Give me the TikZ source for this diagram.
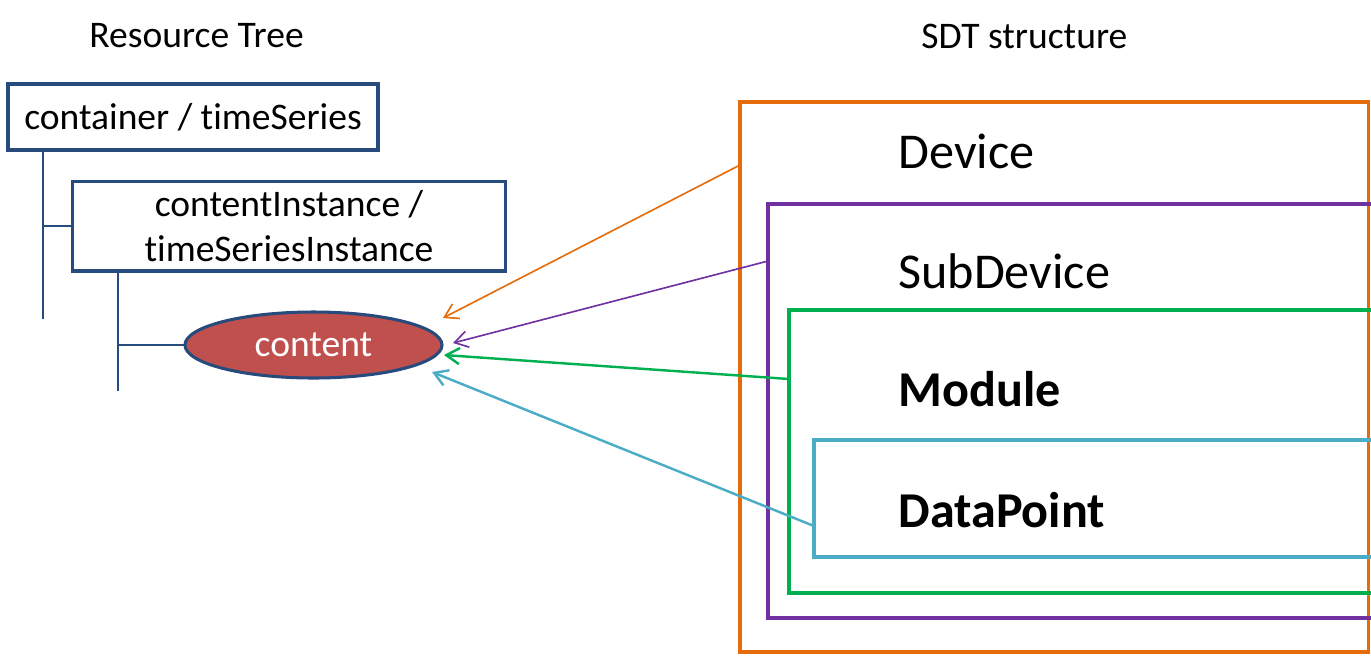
\documentclass[tikz,border=0pt]{standalone}
\usepackage{fontspec}
\setmainfont{Carlito}[Ligatures=NoCommon]
\usetikzlibrary{arrows.meta,shapes.geometric}
\definecolor{treeblue}{HTML}{264B7C}
\definecolor{devorange}{HTML}{E46C0A}
\definecolor{subpurple}{HTML}{7030A0}
\definecolor{modgreen}{HTML}{00B050}
\definecolor{dpcyan}{HTML}{4BACC6}
\definecolor{contentred}{HTML}{C0504D}

\begin{document}
\begin{tikzpicture}[x=0.4925pt,y=-0.4925pt,
	tree/.style={draw=treeblue,line width=1.5pt,fill=white,inner sep=0,outer sep=0,align=center,font=\fontsize{18.5}{21.8}\selectfont},
	link/.style={draw=treeblue,line width=1pt},
	label/.style={anchor=base west,inner sep=0,font=\fontsize{24.7}{28}\selectfont},
	title/.style={anchor=base west,inner sep=0,font=\fontsize{18.5}{21.8}\selectfont},
	ref/.style={-{Straight Barb[length=6.5pt,width=8pt]}}]
	\useasboundingbox (0,0) rectangle (1371,655);
	% resource tree
	\node[title] (rt) at (89,47) {Resource Tree};
	\node[tree,rectangle,minimum width=182.2pt,minimum height=32.5pt] (cnt) at (193,117) {container / timeSeries};
	\node[tree,rectangle,minimum width=213.7pt,minimum height=44.3pt] (cin) at (289,226) {contentInstance /\\ timeSeriesInstance};
	\node[tree,ellipse,fill=contentred,text=white,minimum width=126.6pt,minimum height=32.5pt] (con) at (313.5,345) {content};
	\coordinate (cntend) at (43,319);
	\coordinate (cinend) at (118,391);
	\draw[link] (cnt.south -| cntend) -- (cntend);
	\draw[link] (cntend |- cin.west) -- (cin.west);
	\draw[link] (cin.south -| cinend) -- (cinend);
	\draw[link] (cinend |- con.west) -- (con.west);
	% SDT structure
	\node[title] (sdt) at (921,48) {SDT structure};
	\draw[devorange,line width=1.5pt] (740,102) rectangle (1368,652);
	\draw[subpurple,line width=1.5pt] (1400,204) -- (768,204) -- (768,618) -- (1400,618);
	\draw[modgreen,line width=1.5pt] (1400,310) -- (789,310) -- (789,593) -- (1400,593);
	\draw[dpcyan,line width=1.5pt] (1400,440) -- (814,440) -- (814,557) -- (1400,557);
	\node[label] (dev) at (898,168) {Device};
	\node[label] (sub) at (898,288) {SubDevice};
	\node[label,font=\fontsize{24.7}{28}\selectfont\bfseries] (mod) at (898,406) {Module};
	\node[label,font=\fontsize{24.7}{28}\selectfont\bfseries] (dp) at (898,527) {DataPoint};
	% mappings
	\coordinate (devtap) at (740,165);
	\coordinate (subtap) at (768,261);
	\coordinate (modtap) at (789,379);
	\coordinate (dptap) at (814,526);
	\coordinate (devtip) at (443,318);
	\coordinate (subtip) at (453,343);
	\coordinate (modtip) at (444,355);
	\coordinate (dptip) at (432,372);
	\draw[ref,devorange,line width=0.8pt] (devtap) -- (devtip);
	\draw[ref,subpurple,line width=0.8pt] (subtap) -- (subtip);
	\draw[ref,modgreen,line width=1.2pt] (modtap) -- (modtip);
	\draw[ref,dpcyan,line width=1.2pt] (dptap) -- (dptip);
\end{tikzpicture}
\end{document}
